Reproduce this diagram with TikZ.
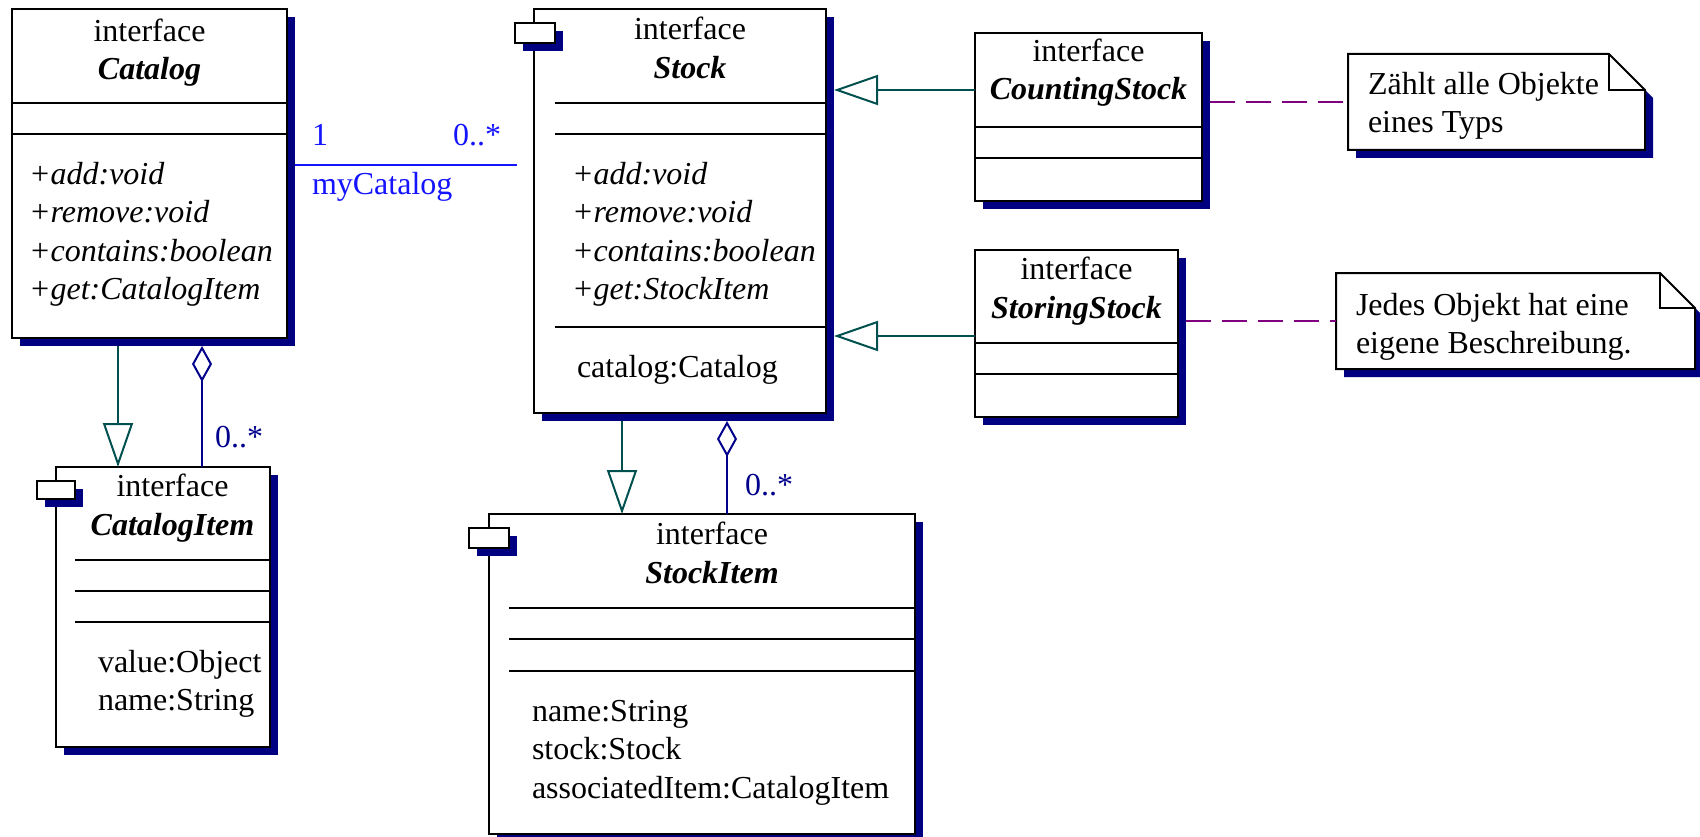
\documentclass[tikz,border=0pt]{standalone}
\usepackage{fontspec}
\setmainfont{Liberation Serif}
\usetikzlibrary{arrows.meta, shadows}
\definecolor{shadowblue}{RGB}{0,0,128}
\definecolor{genteal}{RGB}{0,80,80}
\definecolor{aggblue}{RGB}{0,0,140}
\definecolor{assocblue}{RGB}{20,20,255}
\definecolor{notepurple}{RGB}{128,0,128}
\newcommand{\umlfont}{\fontsize{32pt}{38.5pt}\selectfont}
\tikzset{
	shadowed/.style={
		drop shadow={shadow xshift=8pt, shadow yshift=-8pt, fill=shadowblue, opacity=1},
	},
	every node/.append style={
		font=\umlfont,
		inner sep=0pt,
		outer sep=0pt,
	},
	umlbox/.append style={
		draw,
		fill=white,
		line width=2.2pt,
		anchor=north west,
		shadowed,
	},
	tabbox/.append style={
		umlbox,
		line width=2pt,
		minimum width=40pt,
		minimum height=20pt,
	},
	divider/.append style={
		line width=2pt,
	},
	% multi-line texts sit on the baseline of their last line
	boxtitle/.append style={
		align=center,
		anchor=base,
	},
	member/.append style={
		align=left,
		anchor=base west,
	},
	operation/.append style={
		member,
		font=\umlfont\itshape,
	},
	genarrow/.append style={
		genteal,
		line width=2pt,
		-{Triangle[open, length=44pt, width=30pt]},
	},
	aggr/.append style={
		aggblue,
		line width=2pt,
		{Diamond[open, length=36pt, width=20pt]}-,
	},
	assoc/.append style={
		assocblue,
		line width=2pt,
	},
	notelink/.append style={
		notepurple,
		line width=2pt,
		dash pattern=on 25pt off 11pt,
	},
	notearea/.append style={
		anchor=north west,
	},
	noteshape/.append style={
		draw,
		fill=white,
		line width=2pt,
	},
}

\begin{document}
\begin{tikzpicture}[x=1pt, y=-1pt]
\useasboundingbox (0,0) rectangle (1700,837);

% Catalog
\node (cat)[umlbox, minimum width=275pt, minimum height=329pt] at (12,9) {};
\node (catT)[boxtitle] at (149.5,80) {interface\\\textbf{\textit{Catalog}}};
\draw[divider] (12,103) -- (287,103) (12,134) -- (287,134);
\node (catOps)[operation] at (29,299.5) {+add:void\\+remove:void\\+contains:boolean\\+get:CatalogItem};

% Stock
\node (stock)[umlbox, minimum width=292pt, minimum height=404pt] at (534,9) {};
\node (stockTab)[tabbox] at (515,23) {};
\node (stockT)[boxtitle] at (690,78.5) {interface\\\textbf{\textit{Stock}}};
\draw[divider] (555,103) -- (826,103) (555,134) -- (826,134) (555,327) -- (826,327);
\node (stockOps)[operation] at (572,299.5) {+add:void\\+remove:void\\+contains:boolean\\+get:StockItem};
\node (stockAttr)[member] at (577,377) {catalog:Catalog};

% CatalogItem
\node (catitem)[umlbox, minimum width=214pt, minimum height=280pt] at (56,467) {};
\node (catitemTab)[tabbox, minimum width=38pt, minimum height=18pt] at (37,481) {};
\node (catitemT)[boxtitle] at (172.5,535) {interface\\\textbf{\textit{CatalogItem}}};
\draw[divider] (75,560) -- (270,560) (75,591) -- (270,591) (75,622) -- (270,622);
\node (catitemAttr)[member] at (98,710.5) {value:Object\\name:String};

% StockItem
\node (stockitem)[umlbox, minimum width=426pt, minimum height=320pt] at (489,514) {};
\node (stockitemTab)[tabbox] at (469,528) {};
\node (stockitemT)[boxtitle] at (712,583) {interface\\\textbf{\textit{StockItem}}};
\draw[divider] (509,608) -- (915,608) (509,639) -- (915,639) (509,671) -- (915,671);
\node (stockitemAttr)[member] at (532,798) {name:String\\stock:Stock\\associatedItem:CatalogItem};

% CountingStock
\node (cstock)[umlbox, minimum width=227pt, minimum height=168pt] at (975,33) {};
\node (cstockT)[boxtitle] at (1088.5,100) {interface\\\textbf{\textit{CountingStock}}};
\draw[divider] (975,127) -- (1202,127) (975,158) -- (1202,158);

% StoringStock
\node (sstock)[umlbox, minimum width=203pt, minimum height=167pt] at (975,250) {};
\node (sstockT)[boxtitle] at (1076.5,318) {interface\\\textbf{\textit{StoringStock}}};
\draw[divider] (975,343) -- (1178,343) (975,374) -- (1178,374);

% notes
\node (note1)[notearea, minimum width=297pt, minimum height=96pt] at (1348,54) {};
\filldraw[noteshape, shadowed] (note1.north west) -- ([xshift=-36pt]note1.north east)
	-- ([yshift=-36pt]note1.north east) -- (note1.south east) -- (note1.south west) -- cycle;
\draw[noteshape, fill=none] ([xshift=-36pt]note1.north east) |- ([yshift=-36pt]note1.north east);
\node (note1T)[member] at (1368,133) {Zählt alle Objekte\\eines Typs};

\node (note2)[notearea, minimum width=359pt, minimum height=96pt] at (1336,273) {};
\filldraw[noteshape, shadowed] (note2.north west) -- ([xshift=-35pt]note2.north east)
	-- ([yshift=-35pt]note2.north east) -- (note2.south east) -- (note2.south west) -- cycle;
\draw[noteshape, fill=none] ([xshift=-35pt]note2.north east) |- ([yshift=-35pt]note2.north east);
\node (note2T)[member] at (1356,353.5) {Jedes Objekt hat eine\\eigene Beschreibung.};

% connectors
\coordinate (stockShadow) at ([xshift=8pt]stock.north east);
\coordinate (cstockShadow) at ([xshift=8pt]cstock.east);
\coordinate (sstockShadow) at ([xshift=8pt]sstock.east);

\draw[assoc, shorten >=17pt] ([xshift=8pt,yshift=8.5pt]cat.east) coordinate (as1) -- (as1 -| stock.west);
\node (assocL)[text=assocblue, anchor=base west] at (312,146) {1};
\node (assocR)[text=assocblue, anchor=base west] at (453,146) {0..*};
\node (assocName)[text=assocblue, anchor=base west] at (312,195) {myCatalog};

\draw[genarrow] ([xshift=106pt,yshift=-8pt]cat.south west) coordinate (g1) -- (g1 |- catitem.north);
\draw[aggr] ([xshift=190pt,yshift=-8pt]cat.south west) coordinate (a1) -- (a1 |- catitem.north);
\node (a1Mult)[text=aggblue, anchor=base west] at (215,447) {0..*};

\draw[genarrow] ([xshift=88pt,yshift=-8pt]stock.south west) coordinate (g2) -- (g2 |- stockitem.north);
\draw[aggr] ([xshift=193pt,yshift=-8pt]stock.south west) coordinate (a2) -- (a2 |- stockitem.north);
\node (a2Mult)[text=aggblue, anchor=base west] at (745,495) {0..*};

\draw[genarrow] ([yshift=-57pt]cstock.north west) coordinate (g3) -- (g3 -| stockShadow);
\draw[genarrow] ([yshift=-86pt]sstock.north west) coordinate (g4) -- (g4 -| stockShadow);

\draw[notelink] (cstockShadow |- note1.west) -- (note1.west);
\draw[notelink] (sstockShadow |- note2.west) -- (note2.west);

\end{tikzpicture}
\end{document}
